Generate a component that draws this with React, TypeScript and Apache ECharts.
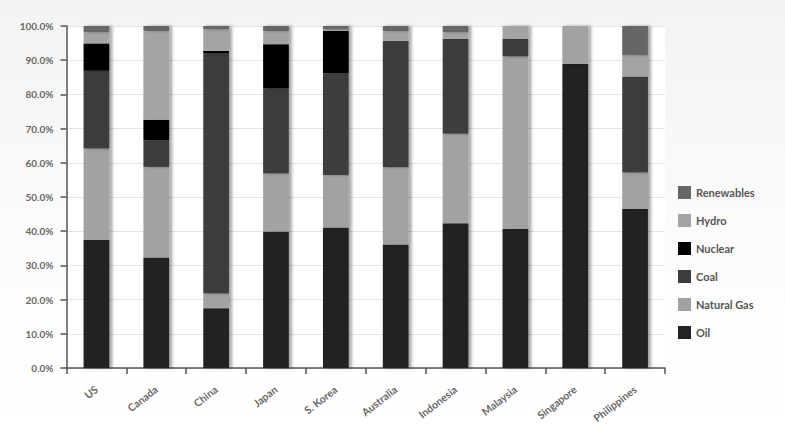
import React, { useEffect, useRef } from "react";
import * as echarts from "echarts";

const categories = ["US", "Canada", "China", "Japan", "S. Korea", "Australia", "Indonesia", "Malaysia", "Singapore", "Philippines"];
const oil = [37.5, 32.3, 17.5, 39.9, 41.1, 36.1, 42.3, 40.7, 88.9, 46.6];
const naturalGas = [26.7, 26.5, 4.3, 17.0, 15.3, 22.6, 26.2, 50.4, 11.1, 10.6];
const coal = [22.7, 7.8, 70.2, 24.8, 29.8, 36.9, 27.7, 5.1, 0, 28.0];
const nuclear = [8.0, 6.0, 0.7, 13.0, 12.4, 0, 0, 0, 0, 0];
const hydro = [3.3, 25.9, 6.3, 3.8, 0.4, 2.9, 2.0, 3.8, 0, 6.3];
const renewables = [1.8, 1.5, 1.0, 1.5, 1.0, 1.5, 1.8, 0, 0, 8.5];
const yTicks = [0, 10, 20, 30, 40, 50, 60, 70, 80, 90, 100];

const seriesDefs = [
  { name: "Oil", data: oil, color: "#232323" },
  { name: "Natural Gas", data: naturalGas, color: "#a2a2a2" },
  { name: "Coal", data: coal, color: "#3d3d3d" },
  { name: "Nuclear", data: nuclear, color: "#000000" },
  { name: "Hydro", data: hydro, color: "#a4a4a4" },
  { name: "Renewables", data: renewables, color: "#666666" },
];

export default function App() {
  const ref = useRef<HTMLDivElement>(null);
  useEffect(() => {
    document.body.style.margin = "0";
    if (!ref.current) return;
    const chart = echarts.init(ref.current, null, { renderer: "svg" });
    const font = "Lato, 'Open Sans', sans-serif";
    chart.setOption({
      animation: false,
      backgroundColor: {
        type: "linear",
        x: 0,
        y: 0,
        x2: 0,
        y2: 1,
        colorStops: [
          { offset: 0, color: "#f3f3f3" },
          { offset: 0.6, color: "#fcfcfc" },
          { offset: 1, color: "#ffffff" },
        ],
      },
      textStyle: { fontFamily: font },
      legend: {
        orient: "vertical",
        left: 673,
        top: 181,
        itemWidth: 13,
        itemHeight: 13,
        itemGap: 15,
        icon: "rect",
        data: ["Renewables", "Hydro", "Nuclear", "Coal", "Natural Gas", "Oil"],
        textStyle: { color: "#555", fontSize: 11, fontWeight: "bold", fontFamily: font },
      },
      grid: {
        left: 66.5,
        right: 120,
        top: 26,
        bottom: 58,
        show: true,
        backgroundColor: "#ffffff",
        borderWidth: 0,
        containLabel: false,
        outerBoundsMode: "none",
      },
      xAxis: {
        type: "category",
        data: categories,
        axisLine: { lineStyle: { color: "#555", width: 1.5 } },
        axisTick: { show: true, length: 6, alignWithLabel: false, lineStyle: { color: "#555", width: 1.5 } },
        axisLabel: {
          rotate: 38,
          margin: 20,
          color: "#666",
          fontSize: 10.5,
          fontWeight: "bold",
          fontFamily: font,
        },
      },
      yAxis: {
        type: "value",
        min: yTicks[0],
        max: yTicks[yTicks.length - 1],
        interval: 10,
        axisLine: { show: true, lineStyle: { color: "#555", width: 1.5 } },
        axisTick: { show: true, length: 6, lineStyle: { color: "#555", width: 1.5 } },
        splitLine: { lineStyle: { color: "#e4e4e4" } },
        axisLabel: {
          margin: 13,
          color: "#666",
          fontSize: 10,
          fontWeight: "bold",
          fontFamily: font,
          formatter: (v: number) => v.toFixed(1) + "%",
        },
      },
      series: seriesDefs.map((s) => ({
        name: s.name,
        type: "bar",
        stack: "total",
        barWidth: "43%",
        data: s.data,
        itemStyle: {
          color: s.color,
          shadowColor: "rgba(0,0,0,0.35)",
          shadowBlur: 3,
          shadowOffsetX: 3,
          shadowOffsetY: 0,
        },
      })),
    });
    return () => chart.dispose();
  }, []);
  return <div ref={ref} style={{ width: 785, height: 426 }} />;
}
